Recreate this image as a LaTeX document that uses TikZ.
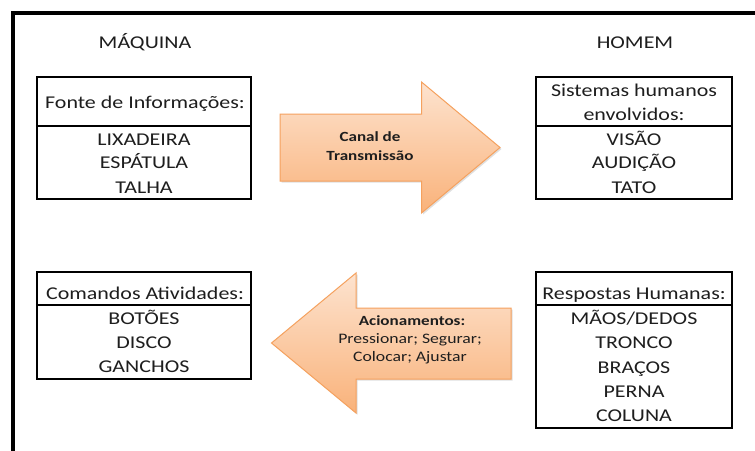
\documentclass[tikz,border=0pt]{standalone}
\usepackage{fontspec}
\setmainfont{Carlito}[FakeStretch=1.22]
\usetikzlibrary{shadows}

\definecolor{peachtop}{HTML}{FDE3CF}
\definecolor{peachbot}{HTML}{F9B27A}
\definecolor{peachline}{HTML}{F5A15E}
\definecolor{ink}{HTML}{1E1E1E}

\tikzset{
  panel/.style={draw=black, line width=2.4pt, minimum width=#1, inner sep=0pt},
  divider/.style={draw=black, line width=2.4pt},
  entry/.style={anchor=base, inner sep=0pt, text=ink,
    font=\fontsize{18}{22}\selectfont},
  heading/.style={entry},
  bigarrow/.style={top color=peachtop, bottom color=peachbot,
    draw=peachline, line width=1pt, line join=miter,
    drop shadow={opacity=0.25, shadow xshift=1.5pt, shadow yshift=-1.5pt}},
  arrowtext/.style={anchor=base, inner sep=0pt, text=ink,
    font=\fontsize{14.5}{18}\selectfont},
  arrowbold/.style={arrowtext, font=\fontsize{14}{18}\selectfont\bfseries},
}

\begin{document}
\begin{tikzpicture}[x=1pt, y=-1pt]
  \useasboundingbox (0,0) rectangle (755,450);
  \fill[white] (0,0) rectangle (755,450);

  % outer frame
  \draw[line width=3.5pt, line cap=rect] (13,452) -- (13,13) -- (757,13);

  % column titles
  \node[heading] (maq) at (145,48) {MÁQUINA};
  \node[heading] (hom) at (635,48) {HOMEM};

  % ---- machine: information source
  \node[panel=214pt, minimum height=122pt] (fonte) at (144,138) {};
  \draw[divider] (fonte.west |- 0,126) -- (fonte.east |- 0,126);
  \node[entry] (fonteT) at (145,108) {Fonte de Informações:};
  \node[entry] (lix) at (144,145) {LIXADEIRA};
  \node[entry] (esp) at (144,168.5) {ESPÁTULA};
  \node[entry] (tal) at (144,193) {TALHA};

  % ---- man: sensory systems
  \node[panel=196pt, minimum height=122pt] (sist) at (634,138) {};
  \draw[divider] (sist.west |- 0,126) -- (sist.east |- 0,126);
  \node[entry] (sistT1) at (634,96) {Sistemas humanos};
  \node[entry] (sistT2) at (634,120) {envolvidos:};
  \node[entry] (vis) at (634,145) {VISÃO};
  \node[entry] (aud) at (634,168.5) {AUDIÇÃO};
  \node[entry] (tat) at (634,193) {TATO};

  % ---- machine: controls
  \node[panel=214pt, minimum height=107pt] (cmd) at (144,325.5) {};
  \draw[divider] (cmd.west |- 0,305) -- (cmd.east |- 0,305);
  \node[entry] (cmdT) at (145,299) {Comandos Atividades:};
  \node[entry] (bot) at (144,324) {BOTÕES};
  \node[entry] (dis) at (144,348) {DISCO};
  \node[entry] (gan) at (144,372) {GANCHOS};

  % ---- man: responses
  \node[panel=196pt, minimum height=156pt] (resp) at (634,350) {};
  \draw[divider] (resp.west |- 0,305) -- (resp.east |- 0,305);
  \node[entry] (respT) at (634,299) {Respostas Humanas:};
  \node[entry] (mao) at (634,324) {MÃOS/DEDOS};
  \node[entry] (tro) at (634,348) {TRONCO};
  \node[entry] (bra) at (634,373) {BRAÇOS};
  \node[entry] (per) at (634,397) {PERNA};
  \node[entry] (col) at (634,421.5) {COLUNA};

  % ---- transmission channel (machine -> man)
  \path[bigarrow] (280,114) -- (421.5,114) -- (421.5,82) -- (500,147.5)
    -- (421.5,213) -- (421.5,181) -- (280,181) -- cycle;
  \node[arrowbold] (canal1) at (370,141.5) {Canal de};
  \node[arrowbold] (canal2) at (370,160) {Transmissão};

  % ---- actuation (man -> machine)
  \path[bigarrow] (511,308) -- (356,308) -- (356,273) -- (271.5,343)
    -- (356,413) -- (356,379) -- (511,379) -- cycle;
  \node[arrowbold] (acio) at (412,325) {Acionamentos:};
  \node[arrowtext] (acio2) at (410,343) {Pressionar; Segurar;};
  \node[arrowtext] (acio3) at (410,361.5) {Colocar; Ajustar};
\end{tikzpicture}
\end{document}
